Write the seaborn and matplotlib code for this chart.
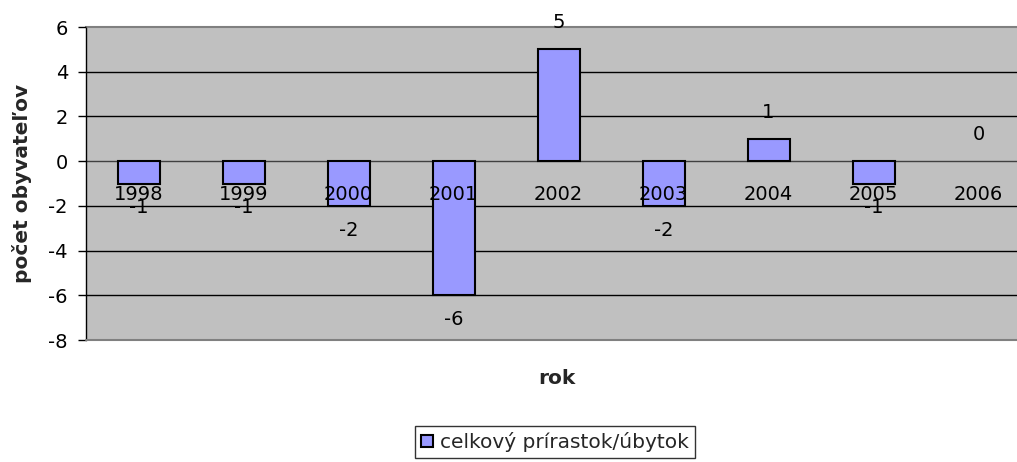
import matplotlib
matplotlib.use("Agg")
import matplotlib.pyplot as plt
import seaborn as sns
import pandas as pd
import numpy as np

# data
years = ["1998", "1999", "2000", "2001", "2002", "2003", "2004", "2005", "2006"]
values = [-1, -1, -2, -6, 5, -2, 1, -1, 0]
series_name = "celkový prírastok/úbytok"
y_ticks = [-8, -6, -4, -2, 0, 2, 4, 6]

df = pd.DataFrame({"rok": years, "hodnota": values})

sns.set_theme(style="white")
# the original text is wide (stretched Arial), DejaVu comes closer in width
plt.rcParams["font.family"] = ["DejaVu Sans"]
fs = 14

W, H = 1017, 462
fig = plt.figure(figsize=(W / 100, H / 100), dpi=100)
# plot area runs slightly past the right edge, as in the original
ax = fig.add_axes([86 / W, (H - 340) / H, 945 / W, 313 / H])
ax.set_facecolor("#C0C0C0")

sns.barplot(data=df, x="rok", y="hodnota", color="#9999FF", edgecolor="black",
            linewidth=1.5, width=0.4, saturation=1, label=series_name, ax=ax)
# a zero bar shows nothing in the original
for p in ax.patches:
    if p.get_height() == 0:
        p.set_linewidth(0)

ax.set_xlim(-0.5, len(years) - 0.5)
ax.set_ylim(-8, 6)
ax.set_yticks(y_ticks)
ax.set_yticklabels([str(t) for t in y_ticks])
# gridlines behind the bars, year labels above them
ax.grid(False)
ax.set_axisbelow(False)
for t in y_ticks[1:-1]:
    if t != 0:
        ax.axhline(t, color="black", linewidth=1, zorder=0.5)

# category axis crosses at zero
ax.spines["bottom"].set_position(("data", 0))
ax.spines["bottom"].set_color("#404040")
ax.spines["bottom"].set_linewidth(1)
ax.spines["bottom"].set_zorder(0.6)
ax.spines["left"].set_color("black")
ax.spines["left"].set_linewidth(1)
ax.spines["top"].set_color("#808080")
ax.spines["top"].set_linewidth(1.5)
ax.spines["right"].set_color("#808080")
ax.axhline(-8, color="#808080", linewidth=1.5, clip_on=False, zorder=3)

ax.tick_params(axis="x", which="major", length=0, pad=17, labelsize=fs, labelcolor="black")
ax.set_xticks(np.arange(len(years)) + 0.5, minor=True)
ax.tick_params(axis="x", which="minor", length=6, width=1, color="#606060", direction="out")
ax.tick_params(axis="y", length=6, width=1, color="black", pad=7, labelsize=fs,
               labelcolor="black", left=True)

# data labels
for i, v in enumerate(values):
    off = 19 if v >= 0 else -17.5
    ax.annotate(str(v), (i, v), xytext=(0, off), textcoords="offset points",
                ha="center", va="center", fontsize=fs, color="black", zorder=4)

ax.set_xlabel("rok", fontsize=14.5, fontweight="bold", va="center")
ax.xaxis.set_label_coords((557 - 86) / 945, (340 - 378) / 313)
ax.set_ylabel("počet obyvateľov", fontsize=14.5, fontweight="bold", va="center")
ax.yaxis.set_label_coords((22 - 86) / 945, 0.5)

handles, labels = ax.get_legend_handles_labels()
if ax.get_legend() is not None:
    ax.get_legend().remove()
leg = fig.legend(handles[:1], [series_name], loc="upper center",
                 bbox_to_anchor=(555 / W, 1 - 426 / H), fontsize=14.5,
                 frameon=True, fancybox=False, edgecolor="black",
                 handlelength=0.6, handleheight=0.6, handletextpad=0.35,
                 borderpad=0.3, borderaxespad=0)
leg.get_frame().set_linewidth(1)

fig.savefig("out.png", dpi=100, facecolor="white")
